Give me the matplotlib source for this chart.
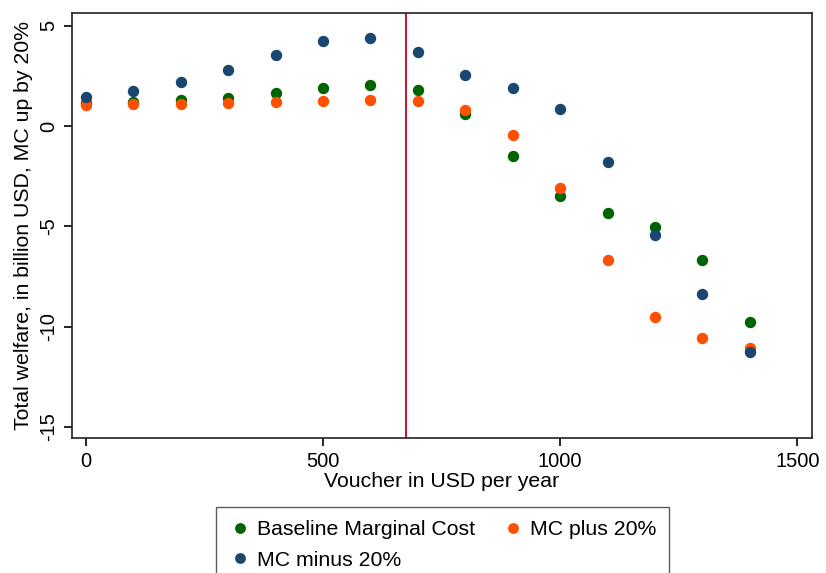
import numpy as np
import matplotlib.pyplot as plt

plt.rcParams['font.family'] = ['Liberation Sans', 'DejaVu Sans']
plt.rcParams['axes.unicode_minus'] = False

# voucher levels (USD per year)
voucher = [0, 100, 200, 300, 400, 500, 600, 700, 800, 900, 1000, 1100, 1200, 1300, 1400]

# total welfare, billion USD
baseline = [1.15, 1.2, 1.3, 1.42, 1.65, 1.88, 2.03, 1.78, 0.6, -1.47, -3.47, -4.33, -5.03, -6.67, -9.78]
mc_plus = [1.07, 1.08, 1.1, 1.13, 1.18, 1.27, 1.32, 1.23, 0.82, -0.45, -3.08, -6.7, -9.55, -10.57, -11.08]
mc_minus = [1.47, 1.75, 2.2, 2.8, 3.55, 4.25, 4.4, 3.7, 2.55, 1.9, 0.85, -1.78, -5.45, -8.4, -11.25]

current_voucher = 675

GREEN = '#006400'
ORANGE = '#ff4f00'
NAVY = '#1a476f'

fig = plt.figure(figsize=(8.26, 5.73), dpi=100)
ax = fig.add_axes([0.087, 0.236, 0.896, 0.741])

ms = 8.2
h1, = ax.plot(voucher, baseline, 'o', color=GREEN, ms=ms, mew=0, label='Baseline Marginal Cost')
h3, = ax.plot(voucher, mc_plus, 'o', color=ORANGE, ms=ms, mew=0, label='MC plus 20%')
h2, = ax.plot(voucher, mc_minus, 'o', color=NAVY, ms=ms, mew=0, label='MC minus 20%')
ax.axvline(current_voucher, color='#c8102e', lw=1.4)

ax.set_xlim(-29.5, 1531)
ax.set_ylim(-15.55, 5.63)
ax.set_xticks([0, 500, 1000, 1500])
ax.set_yticks([5, 0, -5, -10, -15])
ax.tick_params(axis='both', labelsize=14.5, direction='out', length=6, width=1.2, pad=4)
for lab in ax.get_yticklabels():
    lab.set_rotation(90)
    lab.set_va('center')
ax.set_xlabel('Voucher in USD per year', fontsize=15.3, labelpad=1)
ax.set_ylabel('Total welfare, in billion USD, MC up by 20%', fontsize=15.3, labelpad=4)
for s in ax.spines.values():
    s.set_linewidth(1.2)
    s.set_color('#222222')

leg = fig.legend(handles=[h1, h2, h3], loc='upper center', bbox_to_anchor=(0.536, 0.133),
                 ncol=2, fontsize=15.3, frameon=True, fancybox=False, edgecolor='#333333',
                 markerscale=0.95, handletextpad=0.3, columnspacing=1.3, handlelength=1.0,
                 borderpad=0.6, labelspacing=0.55)
leg.get_frame().set_linewidth(1.0)

fig.savefig('out.png', dpi=100)
